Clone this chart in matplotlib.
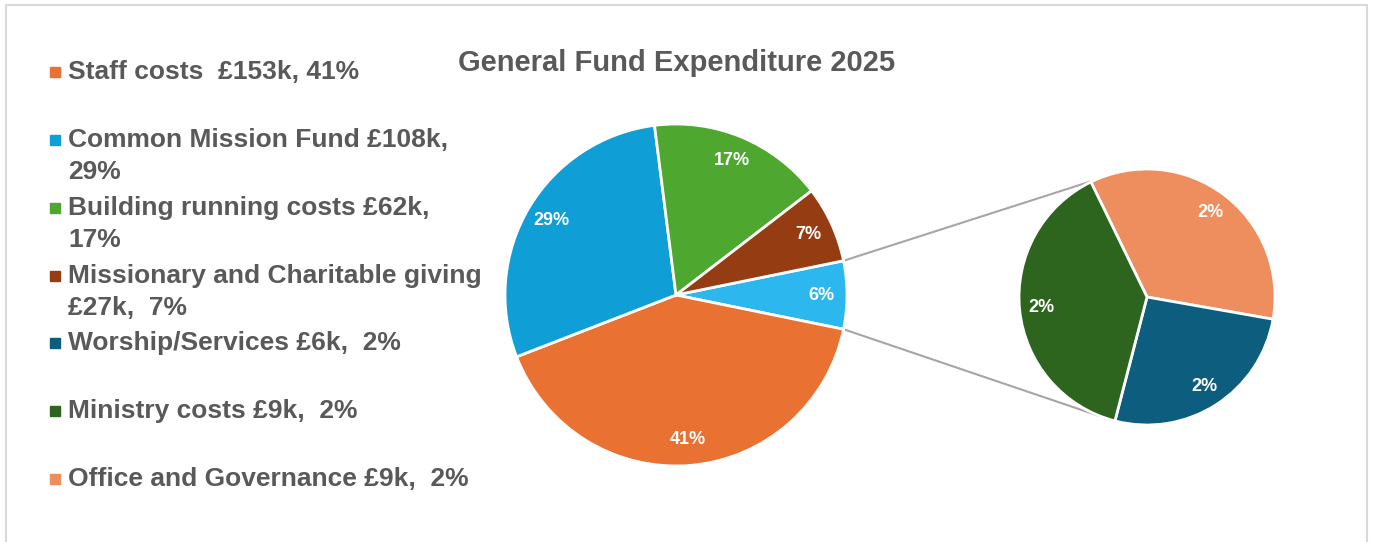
import numpy as np
import matplotlib.pyplot as plt
from matplotlib.patches import Rectangle

plt.rcParams['font.family'] = ['Liberation Sans', 'DejaVu Sans']

# main pie: the first entry is the "other" slice that is split out
main_labels = ['Other', 'Staff costs', 'Common Mission Fund', 'Building running costs',
               'Missionary and Charitable giving']
main_values = [24, 153, 108, 62, 27]
main_colors = ['#2DB7EF', '#E97132', '#0F9ED5', '#4EA72E', '#963C12']

# secondary pie (breakdown of "Other")
sub_labels = ['Office and Governance', 'Worship/Services', 'Ministry costs']
sub_values = [8.4, 6.3, 9.3]
sub_colors = ['#EE8D5E', '#0C5D7E', '#2D641E']

legend_text = ['Staff costs  £153k, 41%',
               'Common Mission Fund £108k,\n29%',
               'Building running costs £62k,\n17%',
               'Missionary and Charitable giving\n£27k,  7%',
               'Worship/Services £6k,  2%',
               'Ministry costs £9k,  2%',
               'Office and Governance £9k,  2%']
legend_colors = ['#E97132', '#0F9ED5', '#4EA72E', '#963C12', '#0C5D7E', '#2D641E', '#EE8D5E']

W, H = 1373, 542
grey = '#595959'
fig = plt.figure(figsize=(W / 100, H / 100), dpi=100)
ax = fig.add_axes([0, 0, 1, 1])

def Y(y):
    return H - y

total = sum(main_values)

c1, r1 = (676, Y(295)), 171
start1 = 360 * main_values[0] / total / 2
wedges, _, autotexts = ax.pie(main_values, colors=main_colors, startangle=start1,
                              counterclock=False, center=c1, radius=r1,
                              autopct=lambda p: f'{p:.0f}%', pctdistance=0.85,
                              wedgeprops=dict(edgecolor='white', linewidth=2),
                              textprops=dict(color='white', fontsize=13, fontweight='bold'))

c2, r2 = (1147, Y(297)), 128
sub_total = sum(sub_values)
w2, _, at2 = ax.pie(sub_values, colors=sub_colors, startangle=116,
                    counterclock=False, center=c2, radius=r2,
                    autopct=lambda p: f'{p * sub_total / total:.0f}%', pctdistance=0.83,
                    wedgeprops=dict(edgecolor='white', linewidth=2),
                    textprops=dict(color='white', fontsize=13, fontweight='bold'))

# connector lines
a = np.deg2rad(start1)
p_top = (c1[0] + r1 * np.cos(a), c1[1] + r1 * np.sin(a))
p_bot = (c1[0] + r1 * np.cos(-a), c1[1] + r1 * np.sin(-a))
q_top = (c2[0] + r2 * np.cos(np.deg2rad(114)), c2[1] + r2 * np.sin(np.deg2rad(114)))
q_bot = (c2[0] + r2 * np.cos(np.deg2rad(-108)), c2[1] + r2 * np.sin(np.deg2rad(-108)))
for p, q in [(p_top, q_top), (p_bot, q_bot)]:
    ax.plot([p[0], q[0]], [p[1], q[1]], color='#A6A6A6', lw=1.5, zorder=0)

# title
ax.text(677, Y(63), 'General Fund Expenditure 2025', fontsize=21, fontweight='bold',
        color=grey, ha='center', va='center')

# legend drawn by hand (uneven spacing in the original)
legend_y = [72, 140, 208, 276, 343, 411, 479]
for txt, col, y in zip(legend_text, legend_colors, legend_y):
    ax.add_patch(Rectangle((50, Y(y) - 5), 10, 10, color=col))
    for i, line in enumerate(txt.split('\n')):
        ax.text(68, Y(y + 32 * i), line, fontsize=19, fontweight='bold',
                color=grey, ha='left', va='center')

# chart frame
ax.add_patch(Rectangle((6, -20), 1361, Y(5) + 20, fill=False, edgecolor='#D9D9D9', lw=1.5))

ax.set_xlim(0, W)
ax.set_ylim(0, H)
ax.set_aspect('equal')
ax.axis('off')
fig.savefig('out.png', dpi=100)
